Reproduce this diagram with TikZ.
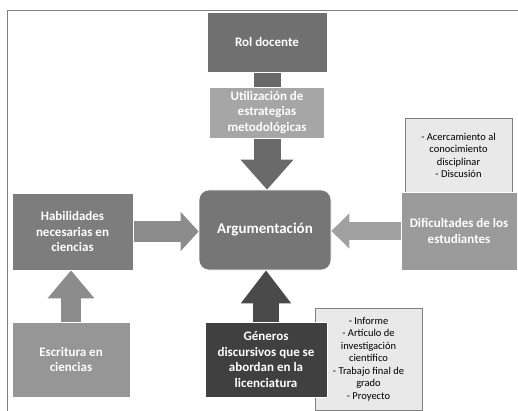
\documentclass[tikz,border=0pt]{standalone}
\usepackage{fontspec}
\setmainfont{Carlito}
\usetikzlibrary{arrows.meta, positioning, backgrounds}
\definecolor{roldark}{RGB}{112, 112, 112}
\definecolor{utilgray}{RGB}{166, 166, 166}
\definecolor{arggray}{RGB}{118, 118, 118}
\definecolor{habgray}{RGB}{125, 125, 125}
\definecolor{escgray}{RGB}{150, 150, 150}
\definecolor{difgray}{RGB}{155, 155, 155}
\definecolor{gendark}{RGB}{64, 64, 64}
\definecolor{notegray}{RGB}{233, 233, 233}

\begin{document}
\begin{tikzpicture}[x=1pt, y=-1pt,
        box/.style={draw=white, line width=0.6pt, text=white, align=center, inner sep=2pt, font=\fontsize{13}{15.6}\selectfont\bfseries},
        note/.style={draw=gray, line width=0.5pt, fill=notegray, align=center, inner sep=2pt, font=\fontsize{10.5}{12.5}\selectfont},
        fatarrow/.style={line width=#1}
    ]
        \useasboundingbox (0, 0) rectangle (518, 411);
        \draw[gray, line width=0.8pt] (7, 411) -- (7, 10.5) -- (518, 10.5);

        \node[box, fill=roldark, minimum width=120pt, minimum height=60pt] (rol) at (267, 42) {Rol docente};
        \node[box, fill=utilgray, minimum width=115pt, minimum height=51pt] (util) at (267, 112.5) {Utilización de\\estrategias\\metodológicas};
        \node[box, fill=arggray, rounded corners=10pt, minimum width=132pt, minimum height=80pt, font=\fontsize{15}{18}\selectfont\bfseries] (arg) at (265, 230) {Argumentación};
        \node[box, fill=habgray, minimum width=121pt, minimum height=77pt] (hab) at (72.5, 231.5) {Habilidades\\necesarias en\\ciencias};
        \node[box, fill=escgray, minimum width=118pt, minimum height=75pt] (esc) at (71, 359.5) {Escritura en\\ciencias};
        \node[note, minimum width=107pt, minimum height=75pt] (diflist) at (458.5, 155.5) {- Acercamiento al\\conocimiento\\disciplinar\\- Discusión};
        \node[box, fill=difgray, minimum width=116pt, minimum height=78pt] (dif) at (459, 231) {Dificultades de los\\estudiantes};
        \node[note, minimum width=107pt, minimum height=102pt] (genlist) at (368.5, 359) {- Informe\\- Artículo de\\investigación\\científico\\- Trabajo final de\\grado\\- Proyecto};
        \node[box, fill=gendark, minimum width=122pt, minimum height=75pt] (gen) at (266, 359.5) {Géneros\\discursivos que se\\abordan en la\\licenciatura};

        \begin{scope}[on background layer]
            \draw[fatarrow=27pt, color=black!59, -{Triangle[width=51pt, length=30pt]}] (rol.south) -- (rol.south |- arg.north);
            \draw[fatarrow=20pt, color=black!45, -{Triangle[width=38pt, length=18pt]}] (hab.east) -- (hab.east -| arg.west);
            \draw[fatarrow=18pt, color=black!37, -{Triangle[width=34pt, length=18pt]}] (dif.west) -- (dif.west -| arg.east);
            \draw[fatarrow=20pt, color=black!45, -{Triangle[width=45pt, length=28pt]}] (esc.north) -- (esc.north |- hab.south);
            \draw[fatarrow=26pt, color=black!71, -{Triangle[width=48pt, length=33pt]}] (gen.north) -- (gen.north |- arg.south);
        \end{scope}
    \end{tikzpicture}
\end{document}
